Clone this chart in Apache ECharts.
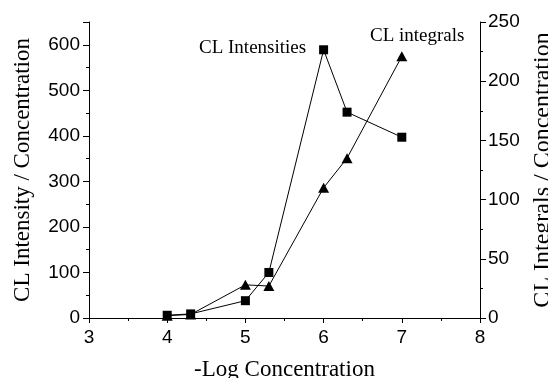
<!DOCTYPE html>
<html>
<head>
<meta charset="utf-8">
<style>
    html, body { margin: 0; padding: 0; background: #fff; }
    #chart { width: 548px; height: 378px; }
</style>
</head>
<body>
<div id="chart"></div>
<script src="https://cdn.jsdelivr.net/npm/echarts@6/dist/echarts.min.js"></script>
<script>
    // -Log Concentration
    var logConc = [4, 4.3, 5, 5.3, 6, 6.3, 7];
    // CL Intensity / Concentration (left axis, squares)
    var intensities = [6, 9, 38, 100, 589, 452, 397];
    // CL Integrals / Concentration (right axis, triangles)
    var integrals = [2, 3, 28, 27, 110, 135, 221];

    function pairs(xs, ys) {
        return xs.map(function (x, i) { return [x, ys[i]]; });
    }

    var serif = 'Liberation Serif';
    var sans = 'Liberation Sans';
    var axisLine = { show: true, lineStyle: { color: '#000', width: 1 } };

    var myChart = echarts.init(document.getElementById('chart'));
    var option = {
        animation: false,
        backgroundColor: '#fff',
        grid: { left: 89, right: 68, top: 22, bottom: 60, outerBoundsMode: 'none', containLabel: false },
        xAxis: {
            type: 'value',
            min: 3,
            max: 8,
            interval: 1,
            name: '-Log Concentration',
            nameLocation: 'middle',
            nameGap: 40,
            nameTextStyle: { fontFamily: serif, fontSize: 23, color: '#000' },
            axisLine: axisLine,
            axisTick: { show: true, length: 5, lineStyle: { color: '#000' } },
            minorTick: { show: true, splitNumber: 2, length: 3, lineStyle: { color: '#000' } },
            axisLabel: { fontFamily: sans, fontSize: 19, color: '#000', margin: 10 },
            splitLine: { show: false }
        },
        yAxis: [
            {
                type: 'value',
                position: 'left',
                min: 0,
                max: 650,
                interval: 100,
                name: 'CL Intensity / Concentration',
                nameLocation: 'middle',
                nameRotate: 90,
                nameGap: 55,
                nameTextStyle: { fontFamily: serif, fontSize: 23, color: '#000' },
                axisLine: axisLine,
                axisTick: { show: true, length: 6, lineStyle: { color: '#000' } },
                minorTick: { show: true, splitNumber: 2, length: 3, lineStyle: { color: '#000' } },
                axisLabel: { fontFamily: sans, fontSize: 19, color: '#000', margin: 9, showMaxLabel: false },
                splitLine: { show: false }
            },
            {
                type: 'value',
                position: 'right',
                min: 0,
                max: 250,
                interval: 50,
                name: 'CL Integrals / Concentration',
                nameLocation: 'middle',
                nameRotate: 90,
                nameGap: 46,
                nameTextStyle: { fontFamily: serif, fontSize: 24, color: '#000' },
                axisLine: axisLine,
                axisTick: { show: true, length: 6, lineStyle: { color: '#000' } },
                minorTick: { show: true, splitNumber: 2, length: 3, lineStyle: { color: '#000' } },
                axisLabel: { fontFamily: sans, fontSize: 19, color: '#000', margin: 8 },
                splitLine: { show: false }
            }
        ],
        graphic: [
            {
                type: 'text', left: 199, top: 39,
                style: { text: 'CL Intensities', font: '19px "Liberation Serif"', fill: '#000' }
            },
            {
                type: 'text', left: 370, top: 27,
                style: { text: 'CL integrals', font: '19px "Liberation Serif"', fill: '#000' }
            }
        ],
        series: [
            {
                name: 'CL Intensities',
                type: 'line',
                yAxisIndex: 0,
                data: pairs(logConc, intensities),
                symbol: 'rect',
                symbolSize: 9,
                itemStyle: { color: '#000' },
                lineStyle: { color: '#000', width: 1 },
                z: 2
            },
            {
                name: 'CL integrals',
                type: 'line',
                yAxisIndex: 1,
                data: pairs(logConc, integrals),
                symbol: 'triangle',
                symbolSize: [11, 10],
                itemStyle: { color: '#000' },
                lineStyle: { color: '#000', width: 1 },
                z: 3
            }
        ]
    };
    myChart.setOption(option);
</script>
</body>
</html>
